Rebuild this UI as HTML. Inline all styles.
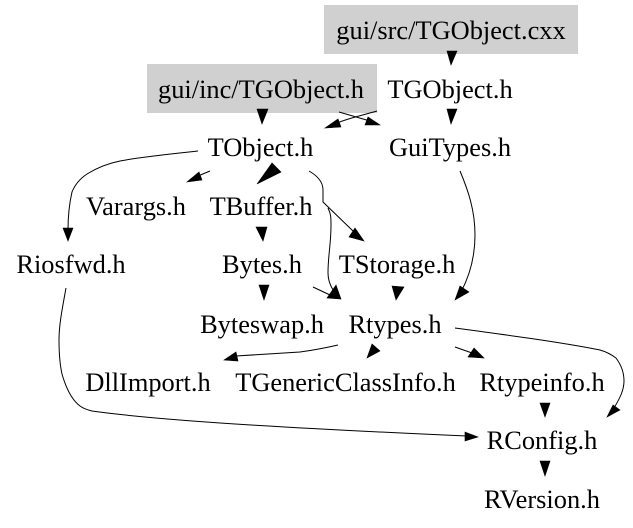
<!DOCTYPE html>
<html>
<head>
<meta charset="utf-8">
<style>
html,body{margin:0;padding:0;background:#fff;width:633px;height:528px;overflow:hidden}
svg{display:block}
text{font-family:"Liberation Serif",serif;font-size:26.4px;fill:#000;text-anchor:middle}
path.e{fill:none;stroke:#000;stroke-width:1}
polygon{fill:#000;stroke:#000;stroke-width:.6}
</style>
</head>
<body>
<svg width="633" height="528" viewBox="0 0 633 528" xmlns="http://www.w3.org/2000/svg">
<rect x="324" y="5" width="254" height="49" fill="#d0d0d0"/>
<rect x="147" y="64" width="230" height="49" fill="#d0d0d0"/>

<text x="451" y="39">gui/src/TGObject.cxx</text>
<text x="261" y="98">gui/inc/TGObject.h</text>
<text x="450" y="98">TGObject.h</text>
<text x="260.500" y="156">TObject.h</text>
<text x="450" y="156">GuiTypes.h</text>
<text x="136" y="215">Varargs.h</text>
<text x="261" y="215">TBuffer.h</text>
<text x="71" y="273">Riosfwd.h</text>
<text x="262" y="273">Bytes.h</text>
<text x="397" y="273">TStorage.h</text>
<text x="262" y="333">Byteswap.h</text>
<text x="395" y="333">Rtypes.h</text>
<text x="148" y="391">DllImport.h</text>
<text x="345.500" y="391">TGenericClassInfo.h</text>
<text x="542" y="391">Rtypeinfo.h</text>
<text x="542" y="449">RConfig.h</text>
<text x="542" y="508">RVersion.h</text>

<!-- arrowheads -->
<polygon points="447,51 457,51 451,65"/>
<polygon points="257,109 268,109 262,124"/>
<polygon points="447,109 457,109 451,124"/>
<polygon points="338,119 341,127 325,128"/>
<polygon points="368,117 365,125 380,125"/>
<polygon points="199,172 202,180 187,182"/>
<polygon points="272,163 281,172 257,184"/>
<polygon points="63,228 73,228 68,241"/>
<polygon points="256,227 267,227 263,241"/>
<polygon points="355,228 349,237 364,241"/>
<polygon points="259,285 269,285 264,300"/>
<polygon points="336,285 341,299 327,298"/>
<polygon points="392,286 404,287 396,300"/>
<polygon points="460,286 469,292 455,300"/>
<polygon points="236,352 238,361 224,360"/>
<polygon points="372,344 380,351 367,358"/>
<polygon points="474,348 468,357 484,358"/>
<polygon points="540,403 550,403 545,417"/>
<polygon points="613,405 620,410 607,417"/>
<polygon points="465,432 465,441 478,437"/>
<polygon points="540,461 550,461 545,476"/>

<!-- edges -->
<path class="e" d="M198,151 C170,154 140,157 120,161 C105,164 95,169 87,174 C78,180 74,187 72,192 C69,205 68,215 68,230"/>
<path class="e" d="M210,171 L198,176"/>
<path class="e" d="M309,171 C316,175 323,181 323,190 L323,202 L353,231"/>
<path class="e" d="M328,208 C331,214 331,218 331,225 C331,245 328,255 328,273 C328,280 330,285 333,290"/>
<path class="e" d="M313,287 L330,295"/>
<path class="e" d="M339,112 L370,121"/>
<path class="e" d="M377,111 C360,116 345,119 335,124"/>
<path class="e" d="M460,171 C468,190 475,210 475,235 C475,255 470,275 461,292"/>
<path class="e" d="M338,345 C325,348 315,350 300,352 L236,356"/>
<path class="e" d="M455,328 C500,334 560,342 600,350 C607,352 612,355 616,358 C622,366 624,374 624,381 C624,390 620,398 614,408"/>
<path class="e" d="M455,347 L472,353"/>
<path class="e" d="M66,288 C62,310 59,325 59,340 C59,355 60,365 62,374 C66,388 72,400 80,406 C84,409 88,410 92,411 C170,422 330,430 467,436"/>
</svg>
</body>
</html>
